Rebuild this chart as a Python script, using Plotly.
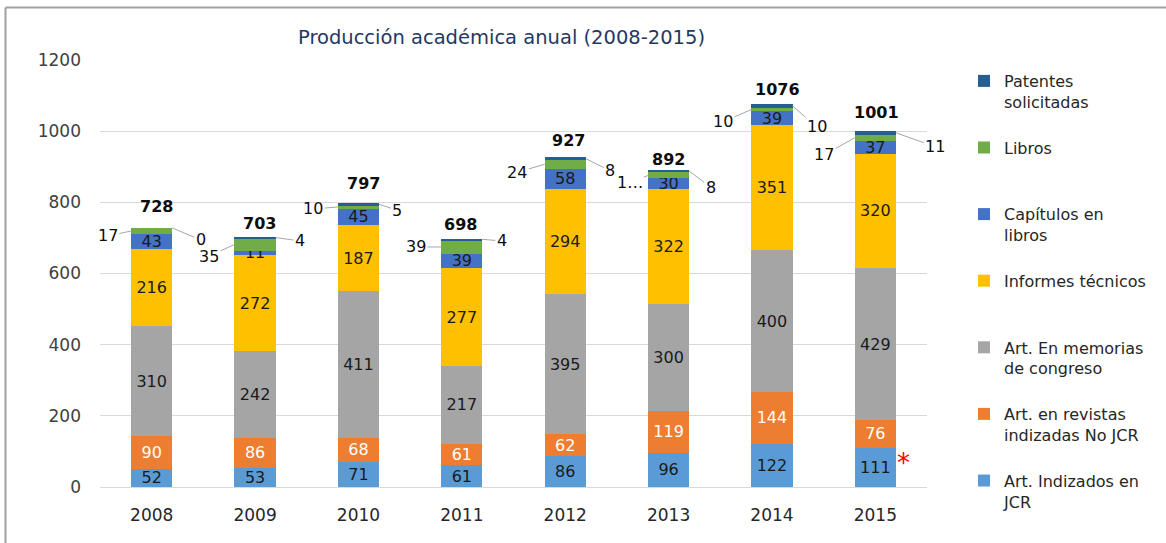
import plotly.graph_objects as go

# ---------------- data ----------------
years = ['2008', '2009', '2010', '2011', '2012', '2013', '2014', '2015']
art_jcr = [52, 53, 71, 61, 86, 96, 122, 111]
art_no_jcr = [90, 86, 68, 61, 62, 119, 144, 76]
art_memorias = [310, 242, 411, 217, 395, 300, 400, 429]
informes = [216, 272, 187, 277, 294, 322, 351, 320]
capitulos = [43, 11, 45, 39, 58, 30, 39, 37]
libros = [17, 35, 10, 39, 24, 17, 10, 17]
patentes = [0, 4, 5, 4, 8, 8, 10, 11]
libros_labels = ['17', '35', '10', '39', '24', '1…', '10', '17']

series_names = [
    'Art. Indizados en<br>JCR',
    'Art. en revistas<br>indizadas No JCR',
    'Art. En memorias<br>de congreso',
    'Informes técnicos<br> ',
    'Capítulos en<br>libros',
    'Libros<br> ',
    'Patentes<br>solicitadas',
]
series_values = [art_jcr, art_no_jcr, art_memorias, informes, capitulos, libros, patentes]

# ---------------- styles ----------------
colors = ['#5B9BD5', '#ED7D31', '#A5A5A5', '#FFC000', '#4472C4', '#70AD47', '#255E91']
text_colors = ['#1a1a1a', '#ffffff', '#1a1a1a', '#1a1a1a', '#1a1a1a', None, None]
show_inside = [True, True, True, True, True, False, False]
FONT = 'DejaVu Sans'

# pixel offsets for callouts / totals (layout styling)
total_dx = [5, 4, 5, -1, 3, 0, 6, 1]
total_dy = [-21, -13, -20, -14, -17, -10, -15, -18]
lib_ax = [-23.5, -25.5, -24.5, -25.5, -27.5, -18.5, -28.5, -30.5]
lib_ay = [5, 11.5, 2, 0, 8, 7.5, 12.5, 17]
pat_ax = [28.5, 24.5, 18.5, 19.5, 24.5, 21.5, 24.5, 39.5]
pat_ay = [12, 3.4, 6, 1.6, 12.4, 16, 21, 14]

fig = go.Figure()
n_series = len(series_names)
for i, (name, vals) in enumerate(zip(series_names, series_values)):
    if show_inside[i]:
        kw = dict(text=[str(v) for v in vals], textposition='inside',
                  insidetextanchor='middle', textangle=0, constraintext='none',
                  insidetextfont=dict(family=FONT, size=16, color=text_colors[i]))
    else:
        kw = dict(textposition='none')
    fig.add_trace(go.Bar(
        x=years, y=vals, name=name, legendgroup=f'g{i}', legendrank=100 * (n_series - i),
        marker=dict(color=colors[i], line=dict(width=0)),
        hoverinfo='skip', **kw))

totals = [sum(s[j] for s in series_values) for j in range(len(years))]
annotations = []
# totals (x given as category index)
for j in range(len(years)):
    annotations.append(dict(x=j, y=totals[j], text=f'<b>{totals[j]}</b>', showarrow=False,
                            xshift=total_dx[j], yshift=-total_dy[j], yanchor='middle',
                            font=dict(family=FONT, size=16, color='#0d0d0d')))
# Libros callouts (left)
for j in range(len(years)):
    base = art_jcr[j] + art_no_jcr[j] + art_memorias[j] + informes[j] + capitulos[j]
    annotations.append(dict(x=j, y=base + libros[j] / 2, xshift=-20.5, text=libros_labels[j],
                            showarrow=True, arrowhead=0, arrowwidth=1, arrowcolor='#A6A6A6',
                            ax=lib_ax[j], ay=lib_ay[j], standoff=0,
                            font=dict(family=FONT, size=16, color='#0d0d0d')))
# Patentes callouts (right)
for j in range(len(years)):
    annotations.append(dict(x=j, y=totals[j] - patentes[j] / 2, xshift=20.5, text=str(patentes[j]),
                            showarrow=True, arrowhead=0, arrowwidth=1, arrowcolor='#A6A6A6',
                            ax=pat_ax[j], ay=pat_ay[j], standoff=0,
                            font=dict(family=FONT, size=16, color='#0d0d0d')))
# asterisk on 2015 JCR
annotations.append(dict(x=len(years) - 1, y=art_jcr[-1], text='*', showarrow=False,
                        xshift=28, yshift=-15, yanchor='middle',
                        font=dict(family=FONT, size=26, color='#FF0000')))

L, R, T, B = 100, 239, 60, 56
W, H = 1166, 543
pw, ph = W - L - R, H - T - B
shapes = [
    dict(type='line', xref='paper', yref='paper', x0=(5.5 - L) / pw, x1=(W - L) / pw,
         y0=(H - B - 7.5) / ph, y1=(H - B - 7.5) / ph, line=dict(color='#A0A0A0', width=2)),
    dict(type='line', xref='paper', yref='paper', x0=(5.5 - L) / pw, x1=(5.5 - L) / pw,
         y0=(H - B - 7.5) / ph, y1=-B / ph, line=dict(color='#A0A0A0', width=2)),
]

fig.update_layout(
    width=W, height=H, barmode='stack', bargap=0.6,
    margin=dict(l=L, r=R, t=T, b=B, autoexpand=False),
    paper_bgcolor='white', plot_bgcolor='white',
    font=dict(family=FONT, size=16, color='#404040'),
    title=dict(text='Producción académica anual (2008-2015)', x=501.5 / W, xanchor='center',
               y=1 - 37 / H, yanchor='middle', font=dict(family=FONT, size=19.5, color='#1F3864')),
    xaxis=dict(type='category', range=[-0.5, len(years) - 0.5], showgrid=False, showline=True,
               linecolor='#D9D9D9', linewidth=1, ticks='', ticklabelstandoff=13,
               tickfont=dict(family=FONT, size=17, color='#262626')),
    yaxis=dict(range=[0, 1200], dtick=200, showgrid=True, gridcolor='#D9D9D9', gridwidth=1,
               zeroline=False, showline=False, ticks='', ticklabelstandoff=18,
               tickfont=dict(family=FONT, size=17, color='#404040')),
    legend=dict(x=(964 - L) / pw, xanchor='left', y=(H - B - 64) / ph, yanchor='top',
                traceorder='grouped', tracegroupgap=22, valign='top', maxheight=540,
                font=dict(family=FONT, size=16, color='#262626'), itemwidth=30),
    annotations=annotations, shapes=shapes,
)

fig.write_html('out.html', config={'displayModeBar': False},
               post_script="document.body.style.margin='0';document.body.style.overflow='hidden';")
